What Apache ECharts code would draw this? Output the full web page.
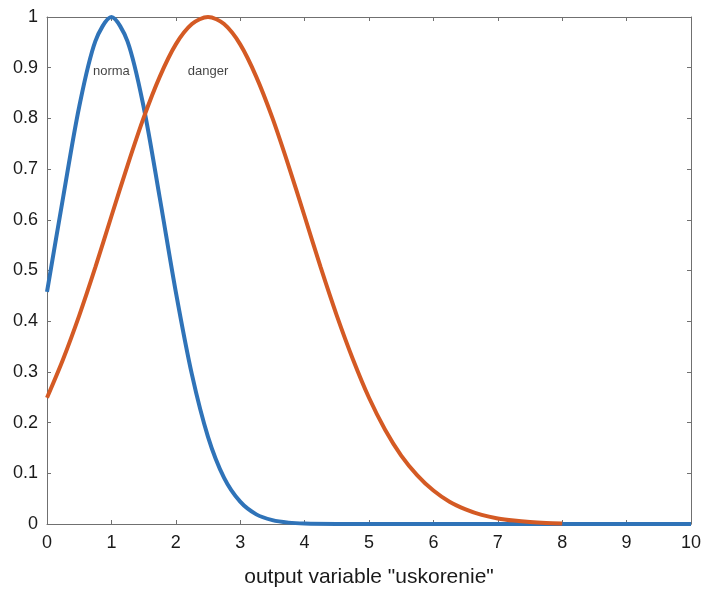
<!DOCTYPE html>
<html>
<head>
<meta charset="utf-8">
<script src="https://cdn.jsdelivr.net/npm/echarts@6/dist/echarts.min.js"></script>
<style>html,body{margin:0;padding:0;background:#fff}#c{width:707px;height:589px}</style>
</head>
<body>
<div id="c"></div>
<script>
// x sample positions
const xNorma = [0,0.25,0.5,0.75,1,1.25,1.5,1.75,2,2.25,2.5,2.75,3,3.25,3.5,3.75,4,4.5,5,6,7,8,9,10];
const yNorma = [0.458,0.644,0.823,0.952,1,0.952,0.823,0.644,0.458,0.295,0.172,0.091,0.044,0.019,0.0076,0.0027,0.0009,0.0001,0,0,0,0,0,0];
const xDanger = [0,0.25,0.5,0.75,1,1.25,1.5,1.75,2,2.25,2.5,2.75,3,3.25,3.5,3.75,4,4.25,4.5,4.75,5,5.25,5.5,5.75,6,6.25,6.5,6.75,7,7.25,7.5,7.75,8];
const yDanger = [0.249,0.325,0.411,0.506,0.607,0.707,0.801,0.882,0.946,0.986,1,0.986,0.946,0.882,0.801,0.707,0.607,0.506,0.411,0.325,0.249,0.186,0.135,0.096,0.066,0.044,0.029,0.018,0.011,0.0067,0.0039,0.0022,0.0012];
const labelTexts = ['norma','danger'];
const labelX = [1, 2.5];
const labelY = [0.893, 0.893];
const xTicks = [0,1,2,3,4,5,6,7,8,9,10];
const yTicks = [0,0.1,0.2,0.3,0.4,0.5,0.6,0.7,0.8,0.9,1];

const FONT = 'Liberation Sans, Arial, Helvetica, sans-serif';
const axisColor = '#707070';
const chart = echarts.init(document.getElementById('c'));
const zip = (xs, ys) => xs.map((x, i) => [x, ys[i]]);
const mk = (extra) => Object.assign({
  type: 'value',
  axisLine: {show: true, onZero: false, lineStyle: {color: axisColor, width: 1}},
  axisTick: {show: true, inside: true, length: 4, lineStyle: {color: axisColor}},
  splitLine: {show: false}
}, extra);
chart.setOption({
  animation: false,
  backgroundColor: '#fff',
  grid: {left: 47, right: 16, top: 17, bottom: 65, containLabel: false, outerBoundsMode: 'none'},
  xAxis: [
    mk({
      min: 0, max: 10, interval: 1, position: 'bottom',
      axisLabel: {color: '#1a1a1a', fontSize: 18, fontFamily: FONT, margin: 10,
        formatter: v => xTicks.includes(v) ? String(v) : ''},
      name: 'output variable "uskorenie"', nameLocation: 'middle', nameGap: 43,
      nameTextStyle: {color: '#1a1a1a', fontSize: 21, fontFamily: FONT}
    }),
    mk({min: 0, max: 10, interval: 1, position: 'top', axisLabel: {show: false}})
  ],
  yAxis: [
    mk({
      min: 0, max: 1, interval: 0.1, position: 'left',
      axisLabel: {color: '#1a1a1a', fontSize: 18, fontFamily: FONT, margin: 9,
        formatter: v => { const r = Math.round(v * 10) / 10; return yTicks.includes(r) ? String(r) : ''; }}
    }),
    mk({min: 0, max: 1, interval: 0.1, position: 'right', axisLabel: {show: false}})
  ],
  series: [
    {
      name: 'norma', type: 'line', smooth: 0.3, symbol: 'none',
      data: zip(xNorma, yNorma),
      lineStyle: {color: '#2f73b8', width: 4}, z: 2
    },
    {
      name: 'danger', type: 'line', smooth: 0.3, symbol: 'none',
      data: zip(xDanger, yDanger),
      lineStyle: {color: '#d45a24', width: 4}, z: 3
    },
    {
      type: 'scatter', symbolSize: 0, silent: true, z: 5,
      data: labelTexts.map((t, i) => ({value: [labelX[i], labelY[i]], name: t})),
      label: {show: true, position: 'inside', formatter: p => p.name,
        color: '#111', fontSize: 13, fontFamily: FONT}
    }
  ]
});
</script>
</body>
</html>
